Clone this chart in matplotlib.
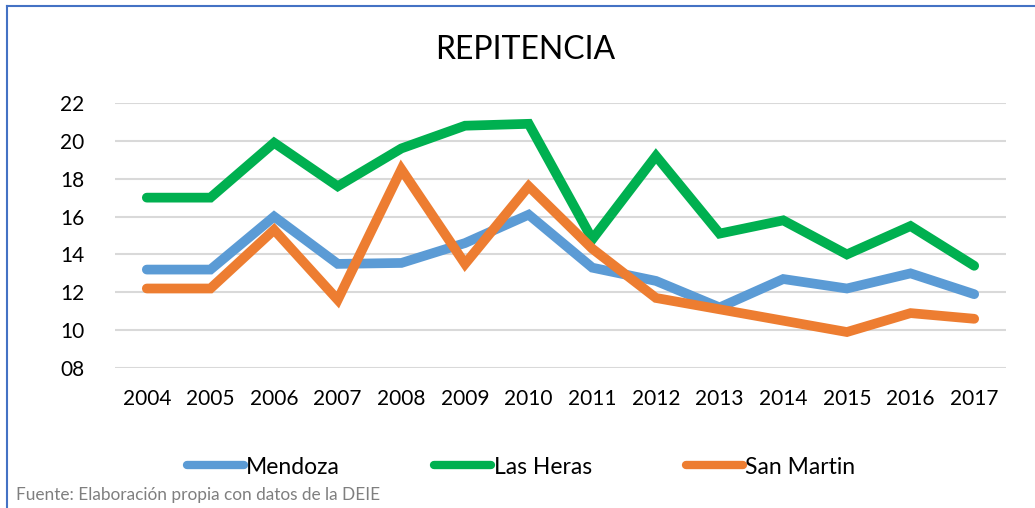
import matplotlib
matplotlib.use("Agg")
import matplotlib.pyplot as plt
from matplotlib.lines import Line2D

years = ["2004", "2005", "2006", "2007", "2008", "2009", "2010",
         "2011", "2012", "2013", "2014", "2015", "2016", "2017"]
mendoza = [13.2, 13.2, 16.0, 13.5, 13.55, 14.6, 16.1, 13.3, 12.6, 11.2, 12.7, 12.2, 13.0, 11.9]
las_heras = [17.0, 17.0, 19.9, 17.6, 19.6, 20.8, 20.9, 14.8, 19.2, 15.1, 15.8, 14.0, 15.5, 13.4]
san_martin = [12.2, 12.2, 15.3, 11.6, 18.5, 13.5, 17.6, 14.3, 11.7, 11.1, 10.5, 9.9, 10.9, 10.6]
series_names = ["Mendoza", "Las Heras", "San Martin"]
colors = ["#5B9BD5", "#00B050", "#ED7D31"]
yticks = [8, 10, 12, 14, 16, 18, 20, 22]
ytick_labels = ["08", "10", "12", "14", "16", "18", "20", "22"]

plt.rcParams['font.family'] = ['Lato', 'DejaVu Sans']

W, H = 1035, 508
fig = plt.figure(figsize=(W / 100, H / 100), dpi=100)
ax = fig.add_axes([115 / W, 1 - 368 / H, (1006 - 115) / W, (368 - 103) / H])

x = list(range(len(years)))
for vals, c in zip([mendoza, las_heras, san_martin], colors):
    ax.plot(x, vals, color=c, lw=7, solid_capstyle='round', solid_joinstyle='miter')

ax.set_xlim(-0.5, len(years) - 0.5)
ax.set_ylim(8, 22)
ax.set_yticks(yticks)
ax.set_yticklabels(ytick_labels)
ax.set_xticks(x)
ax.set_xticklabels(years)
ax.tick_params(axis='both', length=0, labelsize=15, colors='#000000')
ax.tick_params(axis='y', pad=22)
ax.tick_params(axis='x', pad=15)
ax.grid(axis='y', color='#D9D9D9', lw=1.5)
ax.set_axisbelow(True)
for s in ax.spines.values():
    s.set_visible(False)

fig.text(525 / W, 1 - 50 / H, "REPITENCIA", ha='center', va='center', fontsize=23)

handles = [Line2D([0], [0], color=c, lw=6, solid_capstyle='round') for c in colors]
fig.legend(handles, series_names, loc='center', bbox_to_anchor=(521 / W, 1 - 467 / H),
           ncol=3, frameon=False, fontsize=16.5, handlelength=2.5, handletextpad=0.1,
           columnspacing=4.1)

fig.text(16 / W, 1 - 495 / H, "Fuente: Elaboración propia con datos de la DEIE",
         ha='left', va='center', fontsize=12.4, color='#7F7F7F')

# blue frame (left and top edges)
fig.add_artist(Line2D([7 / W, 7 / W], [0, 1 - 6 / H], color='#4472C4', lw=1.5, transform=fig.transFigure))
fig.add_artist(Line2D([7 / W, 1], [1 - 6 / H, 1 - 6 / H], color='#4472C4', lw=1.5, transform=fig.transFigure))

fig.savefig("out.png", dpi=100)
